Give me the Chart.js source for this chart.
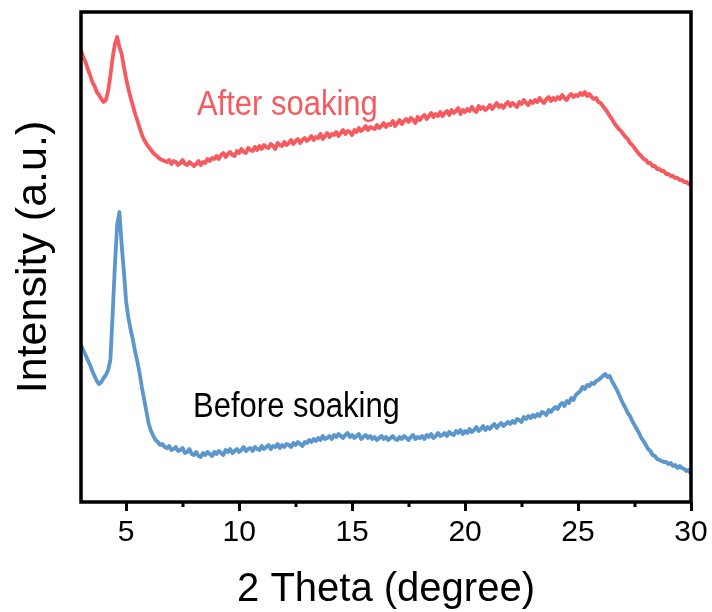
<!DOCTYPE html>
<html>
<head>
<meta charset="utf-8">
<script src="https://cdn.jsdelivr.net/npm/chart.js@4.4.1/dist/chart.umd.min.js"></script>
<style>
html,body{margin:0;padding:0;background:#ffffff;}
#wrap{width:712px;height:612px;}
</style>
</head>
<body>
<div id="wrap"><canvas id="c" width="712" height="612"></canvas></div>
<script>
// 2 Theta sampling (degree)
const theta = [
3.0,3.1,3.2,3.3,3.4,3.5,3.6,3.7,3.8,3.9,
4.0,4.1,4.2,4.3,4.4,4.5,4.6,4.7,4.8,4.9,
5.0,5.1,5.2,5.3,5.4,5.5,5.6,5.7,5.8,5.9,
6.0,6.1,6.2,6.3,6.4,6.5,6.6,6.7,6.8,6.9,
7.0,7.1,7.2,7.3,7.4,7.5,7.6,7.7,7.8,7.9,
8.0,8.1,8.2,8.3,8.4,8.5,8.6,8.7,8.8,8.9,
9.0,9.1,9.2,9.3,9.4,9.5,9.6,9.7,9.8,9.9,
10.0,10.1,10.2,10.3,10.4,10.5,10.6,10.7,10.8,10.9,
11.0,11.1,11.2,11.3,11.4,11.5,11.6,11.7,11.8,11.9,
12.0,12.1,12.2,12.3,12.4,12.5,12.6,12.7,12.8,12.9,
13.0,13.1,13.2,13.3,13.4,13.5,13.6,13.7,13.8,13.9,
14.0,14.1,14.2,14.3,14.4,14.5,14.6,14.7,14.8,14.9,
15.0,15.1,15.2,15.3,15.4,15.5,15.6,15.7,15.8,15.9,
16.0,16.1,16.2,16.3,16.4,16.5,16.6,16.7,16.8,16.9,
17.0,17.1,17.2,17.3,17.4,17.5,17.6,17.7,17.8,17.9,
18.0,18.1,18.2,18.3,18.4,18.5,18.6,18.7,18.8,18.9,
19.0,19.1,19.2,19.3,19.4,19.5,19.6,19.7,19.8,19.9,
20.0,20.1,20.2,20.3,20.4,20.5,20.6,20.7,20.8,20.9,
21.0,21.1,21.2,21.3,21.4,21.5,21.6,21.7,21.8,21.9,
22.0,22.1,22.2,22.3,22.4,22.5,22.6,22.7,22.8,22.9,
23.0,23.1,23.2,23.3,23.4,23.5,23.6,23.7,23.8,23.9,
24.0,24.1,24.2,24.3,24.4,24.5,24.6,24.7,24.8,24.9,
25.0,25.1,25.2,25.3,25.4,25.5,25.6,25.7,25.8,25.9,
26.0,26.1,26.2,26.3,26.4,26.5,26.6,26.7,26.8,26.9,
27.0,27.1,27.2,27.3,27.4,27.5,27.6,27.7,27.8,27.9,
28.0,28.1,28.2,28.3,28.4,28.5,28.6,28.7,28.8,28.9,
29.0,29.1,29.2,29.3,29.4,29.5,29.6,29.7,29.8,29.9,
30.0];

// Intensity (a.u.), after soaking (offset pattern)
const afterSoaking = [
452,445,440,433,427,420,416,410,407,403,
400,402,411,426,444,458,465,455,448,435,
423,413,404,396,388,381,374,367,362,358,
355,352,349,347,345,343,342,341,340,342,
338,341,340,337,339,342,338,337,340,338,
336,338,341,337,340,339,343,341,344,343,
346,343,347,349,345,348,350,347,346,351,
349,353,350,349,354,352,351,355,352,356,
353,357,355,354,358,356,353,359,357,356,
360,357,359,362,358,361,363,359,362,364,
361,363,366,362,365,364,368,363,366,369,
365,368,367,370,366,369,372,368,371,370,
367,372,370,374,371,373,376,372,375,374,
373,377,374,376,379,375,378,377,381,376,
379,382,378,381,383,380,384,382,379,385,
382,385,387,383,386,389,385,388,386,390,
386,389,391,387,392,389,391,394,388,392,
390,393,391,395,392,390,396,393,395,392,
394,397,393,396,399,395,397,394,398,400,
396,399,397,395,400,398,402,399,397,401,
399,402,400,404,401,399,403,405,401,404,
402,405,403,407,404,402,406,408,405,407,
406,409,407,410,406,408,405,403,404,400,
399,396,393,390,386,383,379,376,373,371,
368,365,363,359,357,354,351,348,346,343,
342,339,339,336,336,333,333,331,331,328,
328,326,326,324,324,322,322,320,320,318,
317];

// Intensity (a.u.), before soaking
const beforeSoaking = [
157,152,147,142,137,131,126,121,118,120,
124,127,132,142,187,237,277,290,257,230,
200,184,172,162,150,140,128,114,102,90,
78,71,66,62,60,57,58,55,54,56,
52,53,55,51,52,54,49,50,53,48,
47,50,46,45,49,47,50,48,46,50,
48,51,49,47,52,50,53,49,51,53,
50,52,55,51,53,54,51,55,53,52,
56,53,55,57,53,56,55,58,54,57,
55,58,57,55,59,57,60,58,56,60,
59,62,60,63,61,64,62,66,63,64,
66,63,67,65,68,66,64,67,69,65,
67,64,66,68,63,65,67,64,66,63,
65,62,64,66,63,65,62,64,66,63,
62,65,63,66,64,62,65,67,63,65,
64,66,63,67,65,68,64,66,69,66,
67,69,66,70,68,67,71,69,72,68,
71,69,73,70,72,75,71,73,76,72,
75,73,76,78,74,77,79,76,78,80,
78,81,79,83,82,80,85,83,86,84,
87,85,88,86,90,89,87,92,90,93,
95,93,97,99,96,101,99,104,102,107,
109,111,115,113,117,116,119,118,121,122,
124,126,128,125,126,121,117,113,108,103,
98,94,89,86,81,77,73,69,64,61,
57,53,51,47,46,43,42,41,40,40,
38,39,36,37,34,36,34,33,31,32,
28];

const majorTicks = [5, 10, 15, 20, 25, 30];
const minorTicks = [7.5, 12.5, 17.5, 22.5, 27.5];
const xRange = [3, 30];
const yRange = [0, 490];

const seriesNames = ['After soaking', 'Before soaking'];
const seriesColors = ['#f65a5f', '#5b96cc'];
// label anchor in data units: [theta, intensity]
const labelAnchors = [[8.13, 387], [7.96, 85]];
const labelColors = ['#f65a5f', '#000000'];

const framePlugin = {
  id: 'frame',
  afterDatasetsDraw(chart) {
    const {ctx, chartArea: a, scales} = chart;
    ctx.save();
    ctx.font = '31px "Liberation Sans", Arial, sans-serif';
    ctx.textBaseline = 'alphabetic';
    ctx.textAlign = 'left';
    seriesNames.forEach((name, i) => {
      const px = scales.x.getPixelForValue(labelAnchors[i][0]);
      const py = scales.y.getPixelForValue(labelAnchors[i][1]);
      ctx.fillStyle = labelColors[i];
      ctx.save();
      ctx.translate(px, py);
      ctx.scale(1, 1.12);
      ctx.fillText(name, 0, 0);
      ctx.restore();
    });
    ctx.strokeStyle = '#000';
    ctx.lineWidth = 3;
    minorTicks.forEach(v => {
      const px = Math.round(scales.x.getPixelForValue(v));
      ctx.beginPath();
      ctx.moveTo(px, a.bottom);
      ctx.lineTo(px, a.bottom + 5);
      ctx.stroke();
    });
    ctx.lineWidth = 3.5;
    ctx.strokeRect(a.left, a.top, a.right - a.left, a.bottom - a.top);
    ctx.restore();
  }
};

new Chart(document.getElementById('c'), {
  type: 'line',
  data: {
    datasets: [
      {
        label: seriesNames[0],
        data: theta.map((t, i) => ({x: t, y: afterSoaking[i]})),
        borderColor: seriesColors[0],
        borderWidth: 3.8,
        borderJoinStyle: 'round',
        pointRadius: 0,
        tension: 0,
        fill: false
      },
      {
        label: seriesNames[1],
        data: theta.map((t, i) => ({x: t, y: beforeSoaking[i]})),
        borderColor: seriesColors[1],
        borderWidth: 3.8,
        borderJoinStyle: 'round',
        pointRadius: 0,
        tension: 0,
        fill: false
      }
    ]
  },
  options: {
    responsive: false,
    animation: false,
    devicePixelRatio: 1,
    layout: {padding: {top: 12, right: 21, left: 0, bottom: 0}},
    plugins: {legend: {display: false}, tooltip: {enabled: false}},
    scales: {
      x: {
        type: 'linear',
        min: xRange[0],
        max: xRange[1],
        afterBuildTicks: (axis) => { axis.ticks = majorTicks.map(v => ({value: v})); },
        afterFit: (axis) => { axis.height = 110; },
        grid: {display: true, drawOnChartArea: false, drawTicks: true, tickLength: 9, tickWidth: 3, tickColor: '#000'},
        border: {display: false},
        ticks: {
          color: '#000',
          padding: 4,
          maxRotation: 0,
          font: {family: '"Liberation Sans", Arial, sans-serif', size: 30}
        },
        title: {
          display: true,
          text: '2 Theta (degree)',
          color: '#000',
          padding: {top: 0, bottom: 0},
          font: {family: '"Liberation Sans", Arial, sans-serif', size: 40, lineHeight: 1.1}
        }
      },
      y: {
        type: 'linear',
        min: yRange[0],
        max: yRange[1],
        afterFit: (axis) => { axis.width = 81; },
        grid: {display: false},
        border: {display: false},
        ticks: {display: false},
        title: {
          display: true,
          text: 'Intensity (a.u.)',
          color: '#000',
          padding: {top: 8, bottom: 0},
          font: {family: '"Liberation Sans", Arial, sans-serif', size: 43}
        }
      }
    }
  },
  plugins: [framePlugin]
});
</script>
</body>
</html>
